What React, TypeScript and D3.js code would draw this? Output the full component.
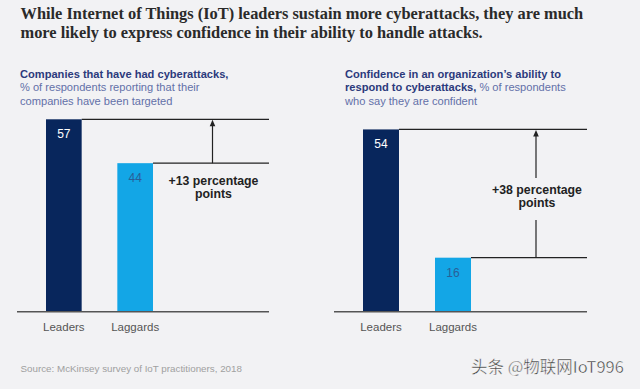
import React, { useEffect, useRef } from 'react';
import * as d3 from 'd3';

// chart data
const categories = ['Leaders', 'Laggards'];
const attackedValues = [57, 44];
const confidentValues = [54, 16];
const barColors = ['#08265c', '#13a6e6'];
const valueColors = ['#ffffff', '#2a5f98'];

const titleLines = [
  'While Internet of Things (IoT) leaders sustain more cyberattacks, they are much',
  'more likely to express confidence in their ability to handle attacks.',
];
const leftSubtitle = [
  [{ t: 'Companies that have had cyberattacks,', b: true }],
  [{ t: '% of respondents reporting that their', b: false }],
  [{ t: 'companies have been targeted', b: false }],
];
const rightSubtitle = [
  [{ t: 'Confidence in an organization\u2019s ability to', b: true }],
  [{ t: 'respond to cyberattacks,', b: true }, { t: ' % of respondents', b: false }],
  [{ t: 'who say they are confident', b: false }],
];
const sourceNote = 'Source: McKinsey survey of IoT practitioners, 2018';
const watermark = '头条 @物联网IoT996';

const W = 640;
const H = 389;
const sans = '"Liberation Sans", Arial, sans-serif';

const App: React.FC = () => {
  const ref = useRef<SVGSVGElement>(null);

  useEffect(() => {
    if (!ref.current) return;
    const svg = d3.select(ref.current);
    svg.selectAll('*').remove();

    svg.append('rect').attr('width', W).attr('height', H).attr('fill', '#f2f2f4');

    // title
    titleLines.forEach((line, i) => {
      svg.append('text')
        .attr('x', 20.5)
        .attr('y', 19 + i * 18.8)
        .attr('font-family', '"Liberation Serif", "DejaVu Serif", serif')
        .attr('font-size', 16.4)
        .attr('font-weight', 'bold')
        .attr('fill', '#2a2a2a')
        .text(line);
    });

    const baseline = 311.7;
    const y = d3.scaleLinear().domain([0, 57]).range([baseline, 119.3]);

    const panels = [
      {
        values: attackedValues, subtitle: leftSubtitle, subX: 20,
        barRange: [46, 153], lineStart: 17, lineEnd: 269, arrowX: 212.5,
        labelY: [180, 193], gap: null as null | [number, number],
      },
      {
        values: confidentValues, subtitle: rightSubtitle, subX: 345,
        barRange: [363, 471], lineStart: 334, lineEnd: 587, arrowX: 536,
        labelY: [189, 202], gap: [178, 220] as [number, number],
      },
    ];

    panels.forEach(p => {
      const g = svg.append('g');

      // subtitle
      p.subtitle.forEach((parts, i) => {
        const t = g.append('text')
          .attr('x', p.subX)
          .attr('y', 77.5 + i * 13.6)
          .attr('font-family', sans)
          .attr('font-size', 11.1);
        parts.forEach(part => {
          t.append('tspan')
            .attr('font-weight', part.b ? 'bold' : 'normal')
            .attr('fill', part.b ? '#2c3a7c' : '#6270a8')
            .text(part.t);
        });
      });

      const x = d3.scaleBand()
        .domain(categories)
        .range(p.barRange as [number, number])
        .paddingInner(0.5)
        .paddingOuter(0);

      // reference lines from the bar tops
      p.values.forEach((v, i) => {
        g.append('line')
          .attr('x1', (x(categories[i]) as number) + x.bandwidth())
          .attr('x2', p.lineEnd)
          .attr('y1', y(v))
          .attr('y2', y(v))
          .attr('stroke', '#222')
          .attr('stroke-width', 1.2);
      });

      // bars
      g.selectAll('.bar')
        .data(p.values)
        .enter()
        .append('rect')
        .attr('x', (d, i) => x(categories[i]) as number)
        .attr('y', d => y(d))
        .attr('width', x.bandwidth())
        .attr('height', d => baseline - y(d))
        .attr('fill', (d, i) => barColors[i]);

      // value labels
      g.selectAll('.val')
        .data(p.values)
        .enter()
        .append('text')
        .attr('x', (d, i) => (x(categories[i]) as number) + x.bandwidth() / 2)
        .attr('y', d => y(d) + 19)
        .attr('text-anchor', 'middle')
        .attr('font-family', sans)
        .attr('font-size', 12)
        .attr('fill', (d, i) => valueColors[i])
        .text(d => d);

      // baseline
      g.append('line')
        .attr('x1', p.lineStart)
        .attr('x2', p.lineEnd)
        .attr('y1', baseline)
        .attr('y2', baseline)
        .attr('stroke', '#555')
        .attr('stroke-width', 1.5);

      // category labels
      categories.forEach(c => {
        g.append('text')
          .attr('x', (x(c) as number) + x.bandwidth() / 2)
          .attr('y', 331)
          .attr('text-anchor', 'middle')
          .attr('font-family', sans)
          .attr('font-size', 11.5)
          .attr('fill', '#555')
          .text(c);
      });

      // difference arrow
      const top = y(p.values[0]);
      const bottom = y(p.values[1]);
      const segs: [number, number][] = p.gap
        ? [[bottom, p.gap[1]], [p.gap[0], top + 5]]
        : [[bottom, top + 5]];
      segs.forEach(s => {
        g.append('line')
          .attr('x1', p.arrowX).attr('x2', p.arrowX)
          .attr('y1', s[0]).attr('y2', s[1])
          .attr('stroke', '#222')
          .attr('stroke-width', 1.2);
      });
      g.append('path')
        .attr('d', `M${p.arrowX},${top + 0.5} L${p.arrowX - 2.8},${top + 7} L${p.arrowX + 2.8},${top + 7} Z`)
        .attr('fill', '#222');

      const diff = p.values[0] - p.values[1];
      [`+${diff} percentage`, 'points'].forEach((t, i) => {
        g.append('text')
          .attr('x', p.arrowX + 1)
          .attr('y', p.labelY[i] + 4.5)
          .attr('text-anchor', 'middle')
          .attr('font-family', sans)
          .attr('font-size', 12.3)
          .attr('font-weight', 'bold')
          .attr('fill', '#222')
          .text(t);
      });
    });

    // footer
    svg.append('text')
      .attr('x', 20.5)
      .attr('y', 371.5)
      .attr('font-family', sans)
      .attr('font-size', 9.8)
      .attr('fill', '#a0a0a0')
      .text(sourceNote);

    svg.append('text')
      .attr('x', 471)
      .attr('y', 373)
      .attr('font-family', '"Noto Sans CJK SC", sans-serif')
      .attr('font-size', 16.5)
      .attr('fill', '#3a3a3a')
      .attr('stroke', '#ffffff')
      .attr('stroke-width', 0.4)
      .text(watermark);
  }, []);

  return (
    <svg
      ref={ref}
      width={W}
      height={H}
      style={{ position: 'absolute', left: 0, top: 0 }}
    />
  );
};

export default App;
